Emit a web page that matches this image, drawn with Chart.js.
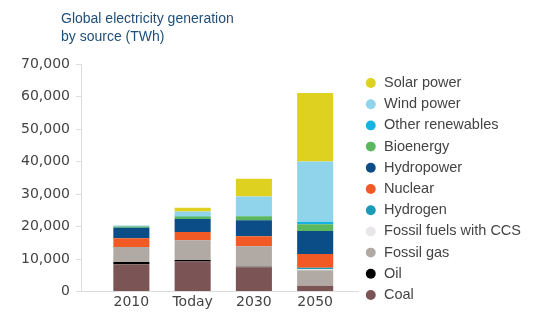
<!DOCTYPE html>
<html>
<head>
<meta charset="utf-8">
<script src="https://cdn.jsdelivr.net/npm/chart.js@4/dist/chart.umd.min.js"></script>
<style>
  html, body { margin: 0; padding: 0; background: #fff; }
  #wrap { position: relative; width: 534px; height: 333px; }
  #chart-title {
    position: absolute; left: 61px; top: 9px;
    font-family: "Liberation Sans", Arial, sans-serif;
    font-size: 14px; line-height: 18px; color: #1f4e79;
  }
  canvas { position: absolute; left: 0; top: 0; }
</style>
</head>
<body>
<div id="wrap">
  <canvas id="genChart" width="534" height="333"></canvas>
  <div id="chart-title">Global electricity generation<br>by source (TWh)</div>
</div>
<script>
// ------------------------------------
// Data (TWh)
// ------------------------------------
const categories = ['2010', 'Today', '2030', '2050'];

const coal       = [8400, 9200, 7450, 1800];
const oil        = [700, 500, 200, 0];
const fossilGas  = [4600, 6070, 6270, 4740];
const fossilCCS  = [0, 0, 0, 300];
const hydrogen   = [0, 0, 0, 490];
const nuclear    = [2700, 2560, 3080, 4220];
const hydropower = [3250, 4000, 4930, 7090];
const bioenergy  = [350, 750, 1230, 2060];
const otherRenew = [80, 180, 100, 800];
const windPower  = [200, 1370, 5940, 18490];
const solarPower = [30, 1150, 5460, 21070];

const yTicks = [0, 10000, 20000, 30000, 40000, 50000, 60000, 70000];

// bottom of the stack first
const series = [
    { label: 'Coal', values: coal, color: '#7b5555' },
    { label: 'Oil', values: oil, color: '#000000' },
    { label: 'Fossil gas', values: fossilGas, color: '#b1a9a4' },
    { label: 'Fossil fuels with CCS', values: fossilCCS, color: '#e8e6e8' },
    { label: 'Hydrogen', values: hydrogen, color: '#1a9cb9' },
    { label: 'Nuclear', values: nuclear, color: '#f15a25' },
    { label: 'Hydropower', values: hydropower, color: '#0b4d87' },
    { label: 'Bioenergy', values: bioenergy, color: '#5cb85e' },
    { label: 'Other renewables', values: otherRenew, color: '#16b3e0' },
    { label: 'Wind power', values: windPower, color: '#8fd4ea' },
    { label: 'Solar power', values: solarPower, color: '#ded11f' }
];

// ------------------------------------
// Chart
// ------------------------------------
const tickFont = { family: 'DejaVu Sans', size: 14 };
const axisGrey = '#dcdcdc';

const ctx = document.getElementById('genChart').getContext('2d');
new Chart(ctx, {
    type: 'bar',
    data: {
        datasets: series.map(s => ({
            label: s.label,
            data: s.values.map((v, i) => ({ x: i, y: v })),
            backgroundColor: s.color,
            borderColor: s.color,
            borderWidth: 0,
            categoryPercentage: 1,
            barPercentage: 0.5885
        }))
    },
    options: {
        responsive: false,
        animation: false,
        devicePixelRatio: 1,
        locale: 'en-US',
        layout: { padding: { top: 64, bottom: 19, left: 0, right: 3 } },
        scales: {
            x: {
                type: 'linear',
                stacked: true,
                offset: false,
                bounds: 'data',
                min: -0.822,
                max: 3.70,
                grid: { display: false, drawTicks: false },
                border: { color: axisGrey },
                afterFit: s => { s.height = 22.5; },
                // one tick per category
                afterBuildTicks: s => { s.ticks = categories.map((c, i) => ({ value: i })); },
                ticks: {
                    autoSkip: false,
                    maxRotation: 0,
                    padding: 2,
                    color: '#444',
                    font: tickFont,
                    callback: (v, i) => categories[i]
                }
            },
            y: {
                stacked: true,
                min: 0,
                max: 70000,
                afterFit: s => { s.width = 81; },
                afterBuildTicks: s => { s.ticks = yTicks.map(v => ({ value: v })); },
                grid: { drawOnChartArea: false, drawTicks: true, tickLength: 5, color: axisGrey },
                border: { color: axisGrey },
                ticks: { padding: 6, color: '#444', font: tickFont }
            }
        },
        plugins: {
            tooltip: { enabled: false },
            legend: {
                position: 'right',
                align: 'center',
                reverse: true,
                maxWidth: 200,
                labels: {
                    usePointStyle: true,
                    pointStyle: 'circle',
                    boxWidth: 12,
                    boxHeight: 7,
                    padding: 6.7,
                    color: '#444',
                    font: { family: 'Liberation Sans', size: 14.5 }
                }
            }
        }
    }
});
</script>
</body>
</html>
